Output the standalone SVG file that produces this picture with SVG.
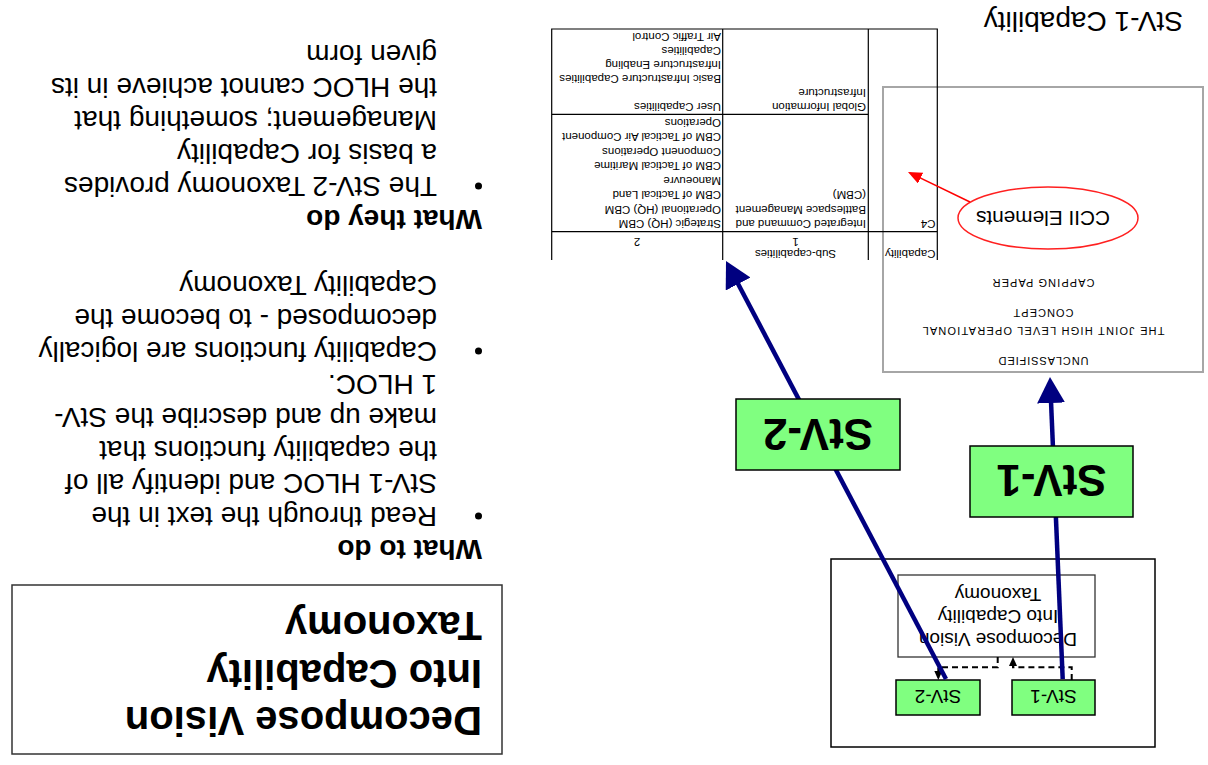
<svg xmlns="http://www.w3.org/2000/svg" width="1208" height="765" viewBox="0 0 1208 765">
  <style>
    text { font-family: "Liberation Sans", Arial, Helvetica, sans-serif; fill: #000; }
    .title { font-size: 40px; font-weight: bold; }
    .head { font-size: 28px; font-weight: bold; }
    .body { font-size: 28px; }
    .doc { font-size: 11px; text-anchor: middle; }
    .cell { font-size: 11.5px; }
    .cellc { font-size: 11.5px; text-anchor: middle; }
    .big { font-size: 44px; font-weight: bold; text-anchor: middle; }
    .small { font-size: 19px; text-anchor: middle; }
    .inner { font-size: 19px; text-anchor: middle; }
    .green { fill: #80ff80; stroke: #000; stroke-width: 1.5; }
    .grid { stroke: #000; stroke-width: 1.2; fill: none; }
    .flow { stroke: #000080; stroke-width: 4.5; fill: none; }
    .dash { stroke: #000; stroke-width: 2; fill: none; stroke-dasharray: 6 4; }
  </style>
  <defs>
    <marker id="navyHead" markerUnits="userSpaceOnUse" markerWidth="28" markerHeight="30" refX="20" refY="14" orient="auto">
      <path d="M0,0 L26,14 L0,28 z" fill="#000080"/>
    </marker>
    <marker id="dashHead" markerUnits="userSpaceOnUse" markerWidth="10" markerHeight="10" refX="7" refY="4" orient="auto">
      <path d="M0,0 L9,4 L0,8 z" fill="#000"/>
    </marker>
    <marker id="redHead" markerUnits="userSpaceOnUse" markerWidth="16" markerHeight="14" refX="12" refY="6" orient="auto">
      <path d="M0,0 L14,6 L0,12 z" fill="#ff0000"/>
    </marker>
  </defs>

  <rect x="0" y="0" width="1208" height="765" fill="#fff"/>

  <!-- the whole slide is shown turned half a revolution -->
  <g transform="rotate(180 604 382.5)">

    <g id="title">
      <rect x="706" y="11" width="490" height="169" fill="#fff" stroke="#333" stroke-width="1.5"/>
      <text class="title" x="726" y="58">Decompose Vision</text>
      <text class="title" x="726" y="105.5">Into Capability</text>
      <text class="title" x="726" y="153">Taxonomy</text>
    </g>

    <g id="notes">
      <text class="head" x="726" y="225">What to do</text>
      <circle cx="729.5" cy="249" r="3.5"/>
      <text class="body" x="771" y="258">Read through the text in the</text>
      <text class="body" x="771" y="291">StV-1 HLOC and identify all of</text>
      <text class="body" x="771" y="324">the capability functions that</text>
      <text class="body" x="771" y="357">make up and describe the StV-</text>
      <text class="body" x="771" y="390">1 HLOC.</text>
      <circle cx="729.5" cy="414" r="3.5"/>
      <text class="body" x="771" y="423">Capability functions are logically</text>
      <text class="body" x="771" y="456">decomposed - to become the</text>
      <text class="body" x="771" y="489">Capability Taxonomy</text>
      <text class="head" x="726" y="555">What they do</text>
      <circle cx="729.5" cy="579" r="3.5"/>
      <text class="body" x="771" y="588">The StV-2 Taxonomy provides</text>
      <text class="body" x="771" y="621">a basis for Capability</text>
      <text class="body" x="771" y="654">Management; something that</text>
      <text class="body" x="771" y="687">the HLOC cannot achieve in its</text>
      <text class="body" x="771" y="720">given form</text>
    </g>

    <g id="caption">
      <text class="body" x="25" y="753">StV-1 Capability</text>
    </g>

    <g id="hloc-paper">
      <rect x="5" y="393" width="320" height="285" fill="#fff" stroke="#a6a6a6" stroke-width="2"/>
      <text class="doc" x="164.5" y="408" textLength="90" lengthAdjust="spacing">UNCLASSIFIED</text>
      <text class="doc" x="164.5" y="438" textLength="242" lengthAdjust="spacing">THE JOINT HIGH LEVEL OPERATIONAL</text>
      <text class="doc" x="164.5" y="456" textLength="60" lengthAdjust="spacing">CONCEPT</text>
      <text class="doc" x="164.5" y="486" textLength="102" lengthAdjust="spacing">CAPPING PAPER</text>
    </g>

    <g id="taxonomy-table">
      <path class="grid" d="M270.7,505 V736 H656.3 V505 M339.7,505 V736 M485.3,505 V736 M270.7,533.3 H656.3 M339.7,650.7 H656.3"/>
      <text class="cell" x="272.5" y="515">Capability</text>
      <text class="cellc" x="412.5" y="515">Sub-capabilities</text>
      <text class="cellc" x="412.5" y="527">1</text>
      <text class="cellc" x="571" y="527">2</text>
      <text class="cell" x="272.5" y="545">C4</text>
      <text class="cell" x="342" y="545">Integrated Command and</text>
      <text class="cell" x="342" y="559.5">Battlespace Management</text>
      <text class="cell" x="342" y="574">(CBM)</text>
      <text class="cell" x="487" y="545">Strategic (HQ) CBM</text>
      <text class="cell" x="487" y="559.5">Operational (HQ) CBM</text>
      <text class="cell" x="487" y="574">CBM of Tactical Land</text>
      <text class="cell" x="487" y="588.5">Manoeuvre</text>
      <text class="cell" x="487" y="603">CBM of Tactical Maritime</text>
      <text class="cell" x="487" y="617.5">Component Operations</text>
      <text class="cell" x="487" y="632">CBM of Tactical Air Component</text>
      <text class="cell" x="487" y="646.5">Operations</text>
      <text class="cell" x="342" y="662">Global Information</text>
      <text class="cell" x="342" y="676.5">Infrastructure</text>
      <text class="cell" x="487" y="662">User Capabilities</text>
      <text class="cell" x="487" y="690.5">Basic Infrastructure Capabilities</text>
      <text class="cell" x="487" y="704.5">Infrastructure Enabling</text>
      <text class="cell" x="487" y="718.5">Capabilities</text>
      <text class="cell" x="487" y="732.5">Air Traffic Control</text>
    </g>

    <g id="ccii">
      <ellipse cx="160" cy="547" rx="90" ry="31" fill="none" stroke="#ff2020" stroke-width="1.5"/>
      <text x="165" y="554" font-size="20" text-anchor="middle" textLength="134" lengthAdjust="spacingAndGlyphs">CCII Elements</text>
    </g>

    <g id="region">
      <rect x="53" y="18" width="324" height="188" fill="none" stroke="#000" stroke-width="1.5"/>
    </g>

    <g id="decompose">
      <rect x="113" y="108" width="197" height="82" fill="#fff" stroke="#333" stroke-width="1.3"/>
      <text class="inner" x="210" y="132">Decompose Vision</text>
      <text class="inner" x="210" y="155">Into Capability</text>
      <text class="inner" x="210" y="177">Taxonomy</text>
    </g>

    <g id="stv1-small">
      <rect class="green" x="113" y="50" width="83" height="35"/>
      <text class="small" x="154.5" y="75">StV-1</text>
    </g>

    <g id="stv2-small">
      <rect class="green" x="228" y="50" width="84" height="35"/>
      <text class="small" x="270" y="75">StV-2</text>
    </g>

    <g id="connectors">
      <path class="dash" d="M136.3,85 V97.7 H195 V106" marker-end="url(#dashHead)"/>
      <path class="dash" d="M210.3,108 V97.7 H269.7 V87" marker-end="url(#dashHead)"/>
      <line x1="238" y1="563" x2="298.2" y2="592.1" stroke="#ff0000" stroke-width="1.5" marker-end="url(#redHead)"/>
      <line class="flow" x1="145.3" y1="86" x2="157.75" y2="382" marker-end="url(#navyHead)"/>
      <line class="flow" x1="262" y1="86" x2="479.2" y2="498.7" marker-end="url(#navyHead)"/>
    </g>

    <g id="stv1-label">
      <rect class="green" x="75" y="248" width="163" height="71"/>
      <text class="big" x="156.5" y="300">StV-1</text>
    </g>

    <g id="stv2-label">
      <rect class="green" x="308" y="295" width="164" height="71"/>
      <text class="big" x="390" y="346.5">StV-2</text>
    </g>
  </g>
</svg>
